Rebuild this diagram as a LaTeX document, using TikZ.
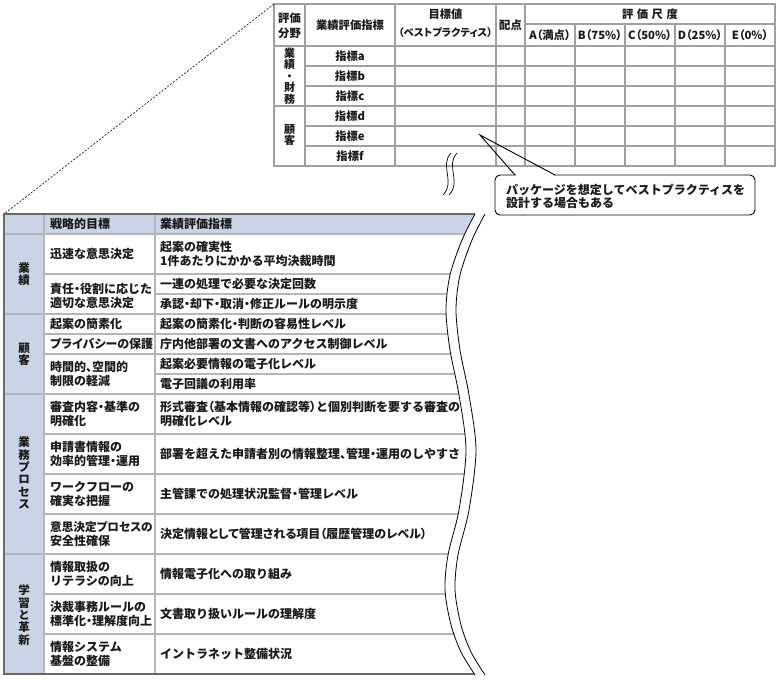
\documentclass[tikz,border=0pt]{standalone}
\usepackage{fontspec}
\setmainfont{Noto Sans CJK JP}
\newfontfamily\jpp{Noto Sans CJK JP}[RawFeature=+palt]
\newcommand{\fsz}[2]{\fontsize{#1}{#2}\selectfont\bfseries}
\newcommand{\dt}{{\jpp\bfseries ・}}
\newcommand{\tn}{{\jpp\bfseries 、}}
\newcommand{\pp}[1]{{\jpp\bfseries #1}}
\definecolor{bluefill}{RGB}{201,212,230}
\definecolor{tgrid}{RGB}{160,160,160}
\definecolor{bgrid}{RGB}{182,182,182}
\definecolor{bborder}{RGB}{105,105,105}
\definecolor{ink}{RGB}{25,25,25}
\begin{document}
\begin{tikzpicture}[x=1pt,y=-1pt,
  tline/.style={draw=tgrid,line width=1.1pt},
  bline/.style={draw=bgrid,line width=1.2pt},
  bouter/.style={draw=bborder,line width=1.4pt},
  wave/.style={draw=black,line width=0.8pt},
  tcell/.style={inner sep=0pt,align=center,font=\fsz{11.3}{14.5},text=ink},
  tvert/.style={inner sep=0pt,align=center,font=\fsz{11}{11.5},text=ink},
  bl/.style={inner sep=0pt,anchor=west,align=left,font=\fsz{12}{14},text=ink},
  bvert/.style={inner sep=0pt,align=center,font=\fsz{11.5}{12.3},text=ink},
  calloutbox/.style={draw=black,line width=0.9pt,fill=white,rounded corners=5pt,minimum width=260pt,minimum height=40pt,inner sep=0pt},
  calltext/.style={inner sep=0pt,anchor=west,align=left,font=\fsz{12}{13},text=ink},
  dashline/.style={draw=black,line width=0.6pt,dash pattern=on 2pt off 1.6pt},
  breakmark/.style={draw=black,line width=0.7pt}
]
\useasboundingbox (0,0) rectangle (780,680);

% ---------------- top table ----------------
\coordinate (ttl) at (274,4);
\draw[tline] (274,46) -- (775,46);
\draw[tline] (274,106) -- (775,106);
\foreach \y in {66,86,126,146} \draw[tline] (305,\y) -- (775,\y);
\draw[tline] (525,24) -- (775,24);
\foreach \x in {305,395,496,525} \draw[tline] (\x,4) -- (\x,166);
\foreach \x in {575,625,675,725} \draw[tline] (\x,24) -- (\x,166);
\draw[tline] (274,4) rectangle (775,166);

\node[tcell] (th1) at (289.5,26) {評価\\分野};
\node[tcell] (th2) at (350,25) {業績評価指標};
\node[tcell] (th3) at (445.5,14) {目標値};
\node[tcell,font=\fsz{10.3}{12}] (th3b) at (445.5,33) {\pp{（ベストプラクティス）}};
\node[tcell] (th4) at (510.5,25) {配点};
\node[tcell] (th5) at (650,14) {評\hspace{3.5pt}価\hspace{3.5pt}尺\hspace{3.5pt}度};
\node[tcell] (tsa) at (550,35) {\pp{A（満点）}};
\node[tcell] (tsb) at (600,35) {\pp{B（75\%）}};
\node[tcell] (tsc) at (650,35) {\pp{C（50\%）}};
\node[tcell] (tsd) at (700,35) {\pp{D（25\%）}};
\node[tcell] (tse) at (750,35) {\pp{E（0\%）}};
\node[tvert] (tg1) at (289.5,76) {業\\績\\・\\財\\務};
\node[tvert] (tg2) at (289.5,135) {顧\\客};
\node[tcell] (ia) at (350,56) {指標a};
\node[tcell] (ib) at (350,76) {指標b};
\node[tcell] (ic) at (350,96) {指標c};
\node[tcell] (id) at (350,116) {指標d};
\node[tcell] (ie) at (350,136) {指標e};
\node[tcell] (if) at (350,156) {指標f};

% break mark
\draw[breakmark] (451,153) .. controls (439,166) and (456,182) .. (443,195);
\draw[breakmark] (457,153) .. controls (445,166) and (462,182) .. (449,195);

% ---------------- callout ----------------
\node[calloutbox] (callout) at (625,195) {};
\node[calltext] (ctext) at (506,196) {パッケージを想定してベストプラクティスを\\設計する場合もある};
\coordinate (ptip) at (480,135);
\coordinate (pb1) at (515,175);
\coordinate (pb2) at (555,175);
\fill[white] (516,173.8) rectangle (554,176.3);
\draw[black,line width=0.9pt] (pb1) -- (ptip) -- (pb2);

% ---------------- bottom table ----------------
\coordinate (btl) at (4,214);
\draw[dashline] (ttl) -- (btl);

\begin{scope}
\clip (-5,205) -- (475,205) -- plot[smooth] coordinates {(475,214) (462,240) (450,275) (446,310) (450,350) (459,395) (466,450) (459,510) (448,555) (445,590) (451,625) (461,652) (475,675)} -- (475,690) -- (-5,690) -- cycle;
\fill[bluefill] (4,214) rectangle (500,234);
\fill[bluefill] (4,234) rectangle (44,674);
\foreach \y in {234,314,394,554} \draw[bline] (4,\y) -- (500,\y);
\foreach \y in {274,334,354,434,474,514,594,634} \draw[bline] (44,\y) -- (500,\y);
\foreach \y in {294,374} \draw[bline] (155,\y) -- (500,\y);
\draw[bline] (44,214) -- (44,674);
\draw[bline] (155,214) -- (155,674);
\draw[bouter] (500,214) -- (4,214) -- (4,674) -- (500,674);
\end{scope}
\draw[wave] plot[smooth] coordinates {(475,214) (462,240) (450,275) (446,310) (450,350) (459,395) (466,450) (459,510) (448,555) (445,590) (451,625) (461,652) (475,675)};
\begin{scope}[xshift=10pt]
\draw[wave] plot[smooth] coordinates {(475,214) (462,240) (450,275) (446,310) (450,350) (459,395) (466,450) (459,510) (448,555) (445,590) (451,625) (461,652) (475,675)};
\end{scope}

\node[bl] (hs) at (50,224) {戦略的目標};
\node[bl] (hm) at (160,224) {業績評価指標};

\node[bvert] (g1) at (24,274) {業\\績};
\node[bvert] (g2) at (24,354) {顧\\客};
\node[bvert] (g3) at (24,473) {業\\務\\プ\\ロ\\セ\\ス};
\node[bvert] (g4) at (24,615) {学\\習\\と\\革\\新};

\node[bl] (s1) at (50,254) {迅速な意思決定};
\node[bl] (s2) at (50,296) {責任\dt 役割に応じた\\適切な意思決定};
\node[bl] (s3) at (50,324) {起案の簡素化};
\node[bl] (s4) at (50,344) {\pp{プライバシーの保護}};
\node[bl] (s5) at (50,374) {時間的\tn 空間的\\制限の軽減};
\node[bl] (s6) at (50,414) {審査内容\dt 基準の\\明確化};
\node[bl] (s7) at (50,454) {申請書情報の\\効率的管理\dt 運用};
\node[bl] (s8) at (50,494) {ワークフローの\\確実な把握};
\node[bl] (s9) at (50,534) {{\fontsize{11.6}{14}\selectfont\pp{意思決定プロセスの}}\\安全性確保};
\node[bl] (s10) at (50,574) {情報取扱の\\リテラシの向上};
\node[bl] (s11) at (50,614) {決裁事務ルールの\\標準化\dt 理解度向上};
\node[bl] (s12) at (50,654) {情報システム\\基盤の整備};

\node[bl] (m1) at (160,254) {起案の確実性\\1件あたりにかかる平均決裁時間};
\node[bl] (m2) at (160,284) {一連の処理で必要な決定回数};
\node[bl] (m3) at (160,304) {承認\dt 却下\dt 取消\dt 修正ルールの明示度};
\node[bl] (m4) at (160,324) {起案の簡素化\dt 判断の容易性レベル};
\node[bl] (m5) at (160,344) {庁内他部署の文書へのアクセス制御レベル};
\node[bl] (m6) at (160,364) {起案必要情報の電子化レベル};
\node[bl] (m7) at (160,384) {電子回議の利用率};
\node[bl] (m8) at (160,414) {形式審査\pp{（}基本情報の確認等\pp{）}と個別判断を要する審査の\\明確化レベル};
\node[bl] (m9) at (160,454) {部署を超えた申請者別の情報整理\tn 管理\dt 運用のしやすさ};
\node[bl] (m10) at (160,494) {主管課での処理状況監督\dt 管理レベル};
\node[bl] (m11) at (160,534) {\pp{決定情報として管理される項目（履歴管理のレベル）}};
\node[bl] (m12) at (160,574) {情報電子化への取り組み};
\node[bl] (m13) at (160,614) {文書取り扱いルールの理解度};
\node[bl] (m14) at (160,654) {イントラネット整備状況};
\end{tikzpicture}
\end{document}
